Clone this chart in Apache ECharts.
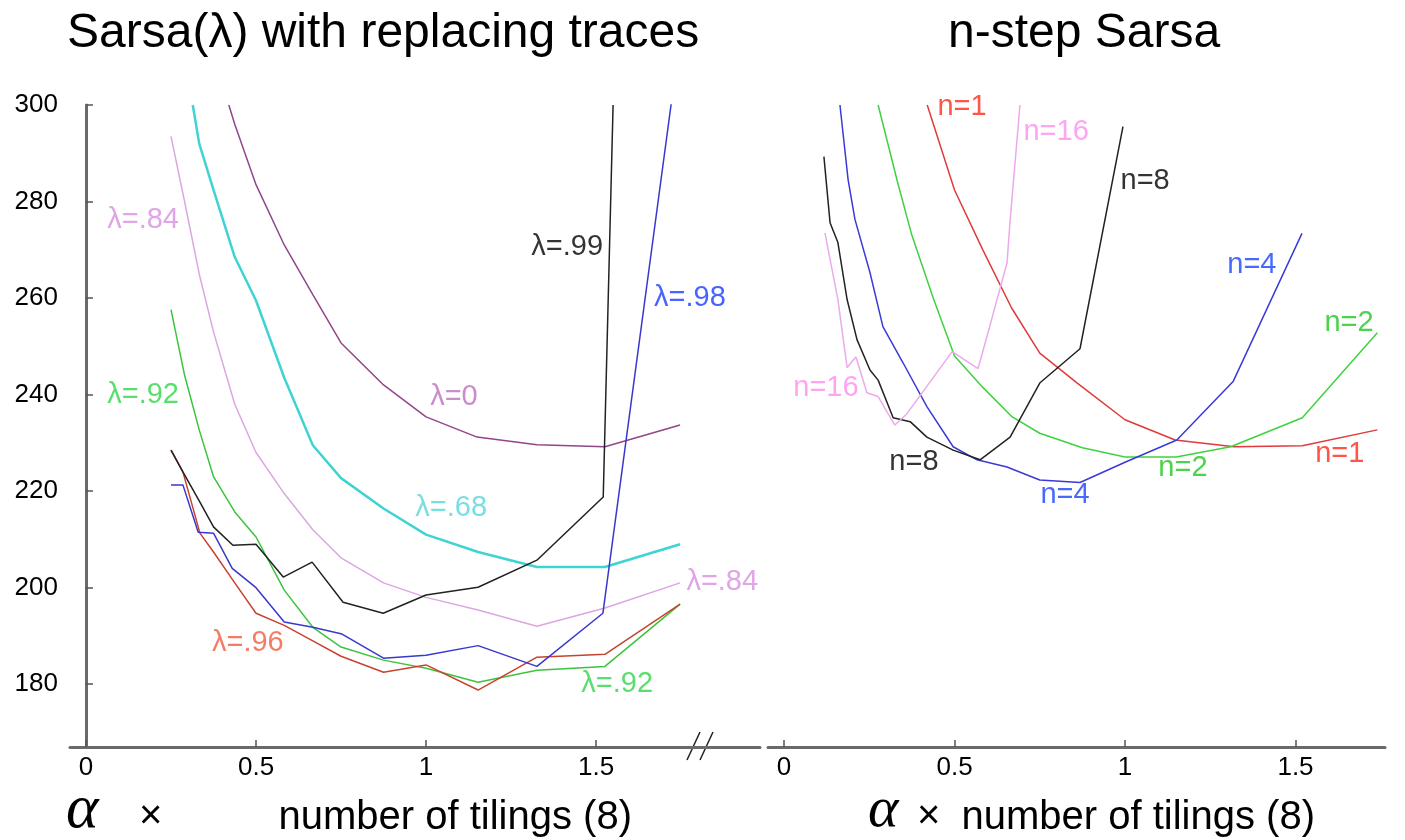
<!DOCTYPE html>
<html>
<head>
<meta charset="utf-8">
<title>Sarsa(λ) vs n-step Sarsa</title>
<script src="https://cdn.jsdelivr.net/npm/echarts@6/dist/echarts.min.js"></script>
<style>
  html, body { margin: 0; padding: 0; background: #fff; }
  #chart { width: 1405px; height: 840px; }
</style>
</head>
<body>
<div id="chart"></div>
<script>
// tick values
const xTicks = [0, 0.5, 1, 1.5];
const yTicks = [180, 200, 220, 240, 260, 280, 300];

// left panel: Sarsa(lambda) with replacing traces, [alpha*8, steps]
const lambda0 = [[0.42, 300], [0.4375, 296], [0.5, 283.5], [0.583, 271], [0.667, 260.7], [0.75, 250.7], [0.875, 242], [1.0, 235.4], [1.15, 231.2], [1.326, 229.6], [1.526, 229.2], [1.747, 233.7]];
const lambda68 = [[0.314, 300], [0.333, 292], [0.375, 282.4], [0.4375, 268.5], [0.5, 259.5], [0.583, 243.5], [0.667, 229.5], [0.75, 222.7], [0.875, 216.4], [1.0, 211], [1.153, 207.4], [1.326, 204.3], [1.526, 204.3], [1.747, 209]];
const lambda84 = [[0.25, 293.5], [0.29, 280], [0.333, 265], [0.375, 253], [0.4375, 238], [0.5, 228], [0.583, 219.5], [0.667, 212], [0.75, 206.2], [0.875, 201], [1.0, 198], [1.153, 195.4], [1.326, 192], [1.526, 195.8], [1.747, 201]];
const lambda92 = [[0.25, 257.6], [0.29, 244], [0.333, 232.7], [0.375, 223], [0.4375, 215.7], [0.5, 210.5], [0.583, 199.5], [0.667, 191.8], [0.75, 187.7], [0.875, 185], [1.0, 183.3], [1.153, 180.4], [1.326, 182.9], [1.526, 183.7], [1.747, 196.6]];
const lambda96 = [[0.25, 228.5], [0.285, 224], [0.335, 211.3], [0.375, 207.4], [0.4375, 201], [0.5, 194.7], [0.583, 192.2], [0.667, 189], [0.75, 185.8], [0.875, 182.5], [1.0, 184], [1.153, 178.8], [1.326, 185.6], [1.526, 186.2], [1.747, 196.6]];
const lambda98 = [[0.25, 221.3], [0.285, 221.3], [0.33, 211.5], [0.375, 211.3], [0.43, 204], [0.5, 200], [0.583, 192.9], [0.667, 191.8], [0.753, 190.4], [0.875, 185.4], [1.0, 186], [1.153, 188], [1.326, 183.7], [1.52, 194.7], [1.747, 314]];
const lambda99 = [[0.25, 228.5], [0.285, 224], [0.333, 218], [0.375, 212.6], [0.432, 208.8], [0.5, 209], [0.58, 202.2], [0.665, 205.3], [0.756, 197], [0.874, 194.7], [1.0, 198.5], [1.153, 200.1], [1.326, 205.7], [1.521, 218.8], [1.55, 300]];

// right panel: n-step Sarsa
const n1 = [[0.42, 300], [0.5, 282.4], [0.583, 270], [0.667, 258], [0.75, 248.6], [0.86, 242.4], [1.0, 234.8], [1.147, 230.6], [1.32, 229.2], [1.52, 229.4], [1.74, 232.7]];
const n2 = [[0.276, 300], [0.333, 284], [0.375, 273], [0.4375, 260], [0.5, 248], [0.583, 241.5], [0.667, 235.5], [0.75, 232], [0.875, 229], [1.0, 227.1], [1.15, 227.1], [1.31, 229.2], [1.52, 235.2], [1.74, 252.8]];
const n4 = [[0.164, 300], [0.188, 284.5], [0.208, 276.3], [0.252, 265.3], [0.29, 254.1], [0.349, 246.6], [0.419, 237.5], [0.496, 229.2], [0.566, 226.5], [0.654, 225], [0.75, 222.3], [0.868, 221.8], [1.0, 226], [1.152, 230.6], [1.317, 242.7], [1.519, 273.4]];
const n8 = [[0.117, 289.3], [0.135, 275.6], [0.158, 271.5], [0.185, 259.7], [0.214, 251.4], [0.252, 245.1], [0.276, 243], [0.32, 235.2], [0.37, 234.4], [0.419, 231.2], [0.496, 228.5], [0.575, 226.5], [0.663, 231.2], [0.75, 242.4], [0.868, 249.5], [0.994, 295.5]];
const n16 = [[0.12, 273.5], [0.158, 259.7], [0.185, 245.6], [0.211, 247.8], [0.243, 240.4], [0.276, 239.6], [0.325, 233.7], [0.36, 236], [0.493, 248.9], [0.569, 245.4], [0.595, 252], [0.654, 267.3], [0.663, 276], [0.692, 300]];

// in-plot labels: text, x, y, series key
const leftLabels = [
  ['λ=.84', 0.168, 276.2, 'l84'],
  ['λ=.92', 0.168, 239.9, 'l92'],
  ['λ=.96', 0.476, 188.5, 'l96'],
  ['λ=0', 1.082, 239.5, 'l0'],
  ['λ=.68', 1.074, 216.5, 'l68'],
  ['λ=.84', 1.871, 201.1, 'l84'],
  ['λ=.92', 1.562, 180, 'l92'],
  ['λ=.99', 1.415, 270.6, 'l99'],
  ['λ=.98', 1.776, 260, 'l98']
];
const rightLabels = [
  ['n=1', 0.522, 299.6, 'n1'],
  ['n=16', 0.798, 294.4, 'n16'],
  ['n=8', 1.059, 284.2, 'n8'],
  ['n=4', 1.372, 266.8, 'n4'],
  ['n=2', 1.657, 254.8, 'n2'],
  ['n=16', 0.123, 241.3, 'n16'],
  ['n=8', 0.381, 226, 'n8'],
  ['n=4', 0.824, 219.2, 'n4'],
  ['n=2', 1.17, 224.8, 'n2'],
  ['n=1', 1.63, 227.7, 'n1']
];

const lineColor = {
  l0: '#924589', l68: '#3fd3d3', l84: '#dba6e2', l92: '#3cc43c', l96: '#c8432e', l98: '#3838cf', l99: '#222222',
  n1: '#e03a3a', n2: '#3fd23f', n4: '#3a3ad8', n8: '#222222', n16: '#ebaaea'
};
const labelColor = {
  l0: '#bd6fbd', l68: '#55d6dc', l84: '#d88ee0', l92: '#2fd64a', l96: '#f25a40', l98: '#1a3cff', l99: '#000000',
  n1: '#ff2a1a', n2: '#1ec81e', n4: '#1a44ff', n8: '#000000', n16: '#ff8cf0'
};

const FONT = '"Liberation Sans", Arial, Helvetica, sans-serif';
const SERIF = '"Liberation Serif", "DejaVu Serif", serif';
const chart = echarts.init(document.getElementById('chart'));

function lineSeries(key, data, gi, width) {
  return {
    type: 'line',
    xAxisIndex: gi,
    yAxisIndex: gi,
    data: data,
    showSymbol: false,
    symbol: 'none',
    clip: true,
    silent: true,
    lineStyle: { color: lineColor[key], width: width || 1.5 },
    z: 3
  };
}

function labelSeries(labels, gi) {
  return {
    type: 'scatter',
    xAxisIndex: gi,
    yAxisIndex: gi,
    symbolSize: 1,
    clip: false,
    silent: true,
    itemStyle: { color: 'rgba(0,0,0,0)' },
    data: labels.map(l => ({
      name: l[0],
      value: [l[1], l[2]],
      label: { color: labelColor[l[3]] }
    })),
    label: {
      show: true,
      position: 'inside',
      formatter: '{b}',
      fontSize: 29,
      fontFamily: FONT
    },
    z: 5
  };
}

function textTitle(text, pos, size, family, italic) {
  return Object.assign({
    text: text,
    padding: 0,
    textStyle: { fontSize: size, fontWeight: 'normal', fontStyle: italic ? 'italic' : 'normal', fontFamily: family, color: '#000' }
  }, pos);
}

const axisLine = { show: true, lineStyle: { color: '#6a6a6a', width: 3 } };
const axisTickX = { show: true, inside: true, length: 7, customValues: xTicks, lineStyle: { color: '#555', width: 1.5 } };
const axisLabelX = { show: true, customValues: xTicks, fontSize: 26, fontFamily: FONT, color: '#000', margin: 8 };

chart.setOption({
  backgroundColor: '#fff',
  animation: false,
  title: [
    textTitle('Sarsa(λ) with replacing traces', { left: 67, top: 10 }, 48, FONT),
    textTitle('n-step Sarsa', { left: 948, top: 10 }, 48, FONT),
    // x axis captions
    textTitle('α', { left: 66, top: 780 }, 62, SERIF, true),
    textTitle('×', { left: 139, top: 797 }, 40, FONT),
    textTitle('number of tilings (8)', { right: 773, top: 798 }, 40, FONT),
    textTitle('α', { left: 868, top: 782 }, 58, SERIF, true),
    textTitle('×', { left: 917, top: 797 }, 40, FONT),
    textTitle('number of tilings (8)', { right: 90, top: 798 }, 40, FONT)
  ],
  grid: [
    { left: 70, top: 105, width: 690, height: 642 },
    { left: 768, top: 105, width: 617, height: 642 }
  ],
  xAxis: [
    { type: 'value', gridIndex: 0, min: -0.047, max: 1.982, axisLine: axisLine, axisTick: axisTickX,
      axisLabel: axisLabelX, splitLine: { show: false } },
    { type: 'value', gridIndex: 1, min: -0.047, max: 1.7625, axisLine: axisLine, axisTick: axisTickX,
      axisLabel: axisLabelX, splitLine: { show: false } }
  ],
  yAxis: [
    { type: 'value', gridIndex: 0, min: 167, max: 300, axisLine: axisLine,
      axisTick: { show: true, inside: true, length: 7, customValues: yTicks, lineStyle: { color: '#555', width: 1.5 } },
      axisLabel: { show: true, customValues: yTicks, fontSize: 26, fontFamily: FONT, color: '#000', margin: 12 },
      splitLine: { show: false } },
    { type: 'value', gridIndex: 1, min: 167, max: 300, show: false, splitLine: { show: false } }
  ],
  graphic: [
    // axis break mark "//"
    { type: 'line', shape: { x1: 687, y1: 760, x2: 700, y2: 732 }, style: { stroke: '#222', lineWidth: 1.5 } },
    { type: 'line', shape: { x1: 700, y1: 760, x2: 713, y2: 732 }, style: { stroke: '#222', lineWidth: 1.5 } }
  ],
  series: [
    lineSeries('l0', lambda0, 0, 1.5),
    lineSeries('l68', lambda68, 0, 2.5),
    lineSeries('l84', lambda84, 0, 1.5),
    lineSeries('l92', lambda92, 0, 1.5),
    lineSeries('l96', lambda96, 0, 1.5),
    lineSeries('l98', lambda98, 0, 1.5),
    lineSeries('l99', lambda99, 0, 1.5),
    lineSeries('n1', n1, 1, 1.5),
    lineSeries('n2', n2, 1, 1.5),
    lineSeries('n4', n4, 1, 1.5),
    lineSeries('n8', n8, 1, 1.5),
    lineSeries('n16', n16, 1, 1.5),
    labelSeries(leftLabels, 0),
    labelSeries(rightLabels, 1)
  ]
});
</script>
</body>
</html>
